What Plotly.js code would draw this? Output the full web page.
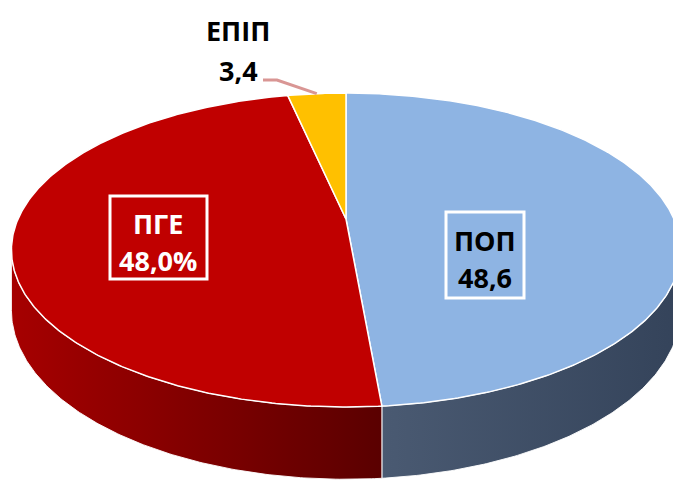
<!DOCTYPE html>
<html><head><meta charset="utf-8">
<script src="https://cdn.plot.ly/plotly-3.0.1.min.js"></script>
<style>html,body{margin:0;padding:0;background:#fff}</style>
</head><body><div id="chart" style="width:673px;height:482px"></div>
<script>
// ---- data ----
const categories = ['ПОП', 'ПГЕ', 'ЕПІП'];
const values = [48.6, 48.0, 3.4];
const valueSuffix = ['', '%', ''];

// ---- style ----
const topColors = ['#8EB4E3', '#C00000', '#FFC000'];
const sideColors = [['#4A5A72', '#34435A'], ['#A60000', '#5A0000'], ['#CC9900', '#8A6600']];
const labelColors = ['#000000', '#FFFFFF', '#000000'];
// label placement (pixel space): [nameX, nameY, valueX, valueY]
const labelPos = [[485, 240, 485, 277], [158, 223, 158, 260], [238, 30, 238, 70]];
const labelBoxes = [[446, 212, 524, 298], [110, 196, 207, 279], null];

// perspective projection of the pie disc
const G = {cx: 346, cy: 219, A: 328, F: -107.6, k: 0.1975, H: 58};
function proj(t, drop) {
  const u = Math.sin(t), v = Math.cos(t), w = 1 + G.k * v;
  return [G.cx + G.A * u / w, (G.cy + G.F * v + (drop ? G.H : 0)) / w];
}
function arc(a0, a1, drop) {
  const n = Math.max(2, Math.ceil(Math.abs(a1 - a0) / (Math.PI / 360)));
  const pts = [];
  for (let i = 0; i <= n; i++) pts.push(proj(a0 + (a1 - a0) * i / n, drop));
  return pts;
}

const total = values.reduce((a, b) => a + b, 0);
const angles = [];
let acc = 0;
values.forEach(v => { const a0 = acc / total * 2 * Math.PI; acc += v; angles.push([a0, acc / total * 2 * Math.PI]); });

const tVisA = Math.acos(-G.k), tVisB = 2 * Math.PI - tVisA;
const traces = [];

// sides
angles.forEach(([a0, a1], i) => {
  const s = Math.max(a0, tVisA), e = Math.min(a1, tVisB);
  if (e <= s) return;
  const topPts = arc(s, e, false), botPts = arc(e, s, true);
  const pts = topPts.concat(botPts);
  pts.push(topPts[0]);
  traces.push({
    type: 'scatter', mode: 'lines', x: pts.map(p => p[0]), y: pts.map(p => p[1]),
    fill: 'toself', line: {color: 'rgba(255,255,255,0.9)', width: 1},
    fillgradient: {type: 'horizontal', colorscale: [[0, sideColors[i][0]], [1, sideColors[i][1]]]},
    hoverinfo: 'skip', showlegend: false
  });
});

// tops
angles.forEach(([a0, a1], i) => {
  const c = [G.cx, G.cy];
  const pts = [c].concat(arc(a0, a1, false)).concat([c]);
  traces.push({
    type: 'scatter', mode: 'lines', x: pts.map(p => p[0]), y: pts.map(p => p[1]),
    fill: 'toself', fillcolor: topColors[i], line: {color: '#FFFFFF', width: 1.5},
    name: categories[i], hoverinfo: 'name', showlegend: false
  });
});

const font = {family: 'Open Sans, Lato, sans-serif', size: 27, weight: 'bold'};
const annotations = [], shapes = [];
categories.forEach((c, i) => {
  const p = labelPos[i];
  const valText = values[i].toFixed(1).replace('.', ',') + valueSuffix[i];
  annotations.push({x: p[0], y: p[1], xref: 'x', yref: 'y', text: '<b>' + c + '</b>', showarrow: false,
    font: Object.assign({}, font, {color: labelColors[i]}), xanchor: 'center', yanchor: 'middle'});
  annotations.push({x: p[2], y: p[3], xref: 'x', yref: 'y', text: '<b>' + valText + '</b>', showarrow: false,
    font: Object.assign({}, font, {color: labelColors[i]}), xanchor: 'center', yanchor: 'middle'});
  if (labelBoxes[i]) {
    const b = labelBoxes[i];
    shapes.push({type: 'rect', xref: 'x', yref: 'y', x0: b[0], y0: b[1], x1: b[2], y1: b[3],
      line: {color: '#FFFFFF', width: 3}, fillcolor: 'rgba(0,0,0,0)'});
  }
});
// leader line for the small slice
const yMid = (angles[2][0] + angles[2][1]) / 2;
const tip = proj(yMid, false);
shapes.push({type: 'path', xref: 'x', yref: 'y',
  path: `M 263 80 L 277 80 L ${tip[0]} ${tip[1]}`, line: {color: '#D99694', width: 3}});

const layout = {
  width: 673, height: 482, margin: {l: 0, r: 0, t: 0, b: 0},
  paper_bgcolor: '#FFFFFF', plot_bgcolor: '#FFFFFF',
  xaxis: {range: [0, 673], visible: false, fixedrange: true},
  yaxis: {range: [482, 0], visible: false, fixedrange: true},
  showlegend: false, annotations, shapes
};
Plotly.newPlot('chart', traces, layout, {staticPlot: true, displayModeBar: false});
</script></body></html>
